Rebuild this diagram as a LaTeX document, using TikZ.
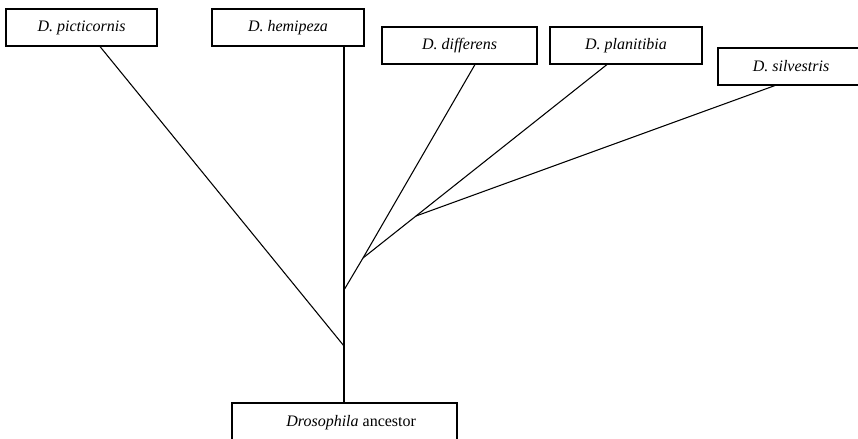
\documentclass[tikz,border=0pt]{standalone}
\usepackage{fontspec}
\setmainfont{Liberation Serif}
\usetikzlibrary{calc}
\begin{document}
\begin{tikzpicture}[x=0.75pt,y=-0.75pt,
  taxon/.style={draw=black,line width=0.8pt,fill=white,minimum height=37*0.75pt,inner sep=0pt,font=\fontsize{12}{14}\selectfont\itshape},
  branch/.style={draw=black,line width=0.8pt}]
\useasboundingbox (0,0) rectangle (858,439);
\node[taxon,minimum width=151*0.75pt] (pic) at (81.5,27.5) {D. picticornis\hspace{6pt}};
\node[taxon,minimum width=152*0.75pt] (hem) at (288,27.5) {D. hemipeza\hspace{10pt}};
\node[taxon,minimum width=155*0.75pt] (dif) at (459.5,45.5) {D. differens\hspace{3pt}};
\node[taxon,minimum width=152*0.75pt] (pla) at (626,45.5) {D. planitibia\hspace{5pt}};
\node[taxon,minimum width=146*0.75pt] (sil) at (791,66.5) {D. silvestris};
\node[taxon,minimum width=225*0.75pt,minimum height=40*0.75pt,font=\fontsize{12}{14}\selectfont] (anc) at (344.5,423) {\hspace*{10pt}\textit{Drosophila} ancestor};
\coordinate (r1) at (344,346);
\coordinate (r2) at (344,290);
\coordinate (r3) at (363,258);
\coordinate (r4) at (416,216);
\draw[branch] ($(pic.south)+(18.5,0)$) -- (r1);
\draw[branch] ($(hem.south)+(56,0)$) -- (r2) -- (r1) -- (anc.north -| r1);
\draw[branch] ($(dif.south)+(15.5,0)$) -- (r3) -- (r2);
\draw[branch] ($(pla.south)+(-19,0)$) -- (r4) -- (r3);
\draw[branch] ($(sil.south)+(-16,0)$) -- (r4);
\end{tikzpicture}
\end{document}
